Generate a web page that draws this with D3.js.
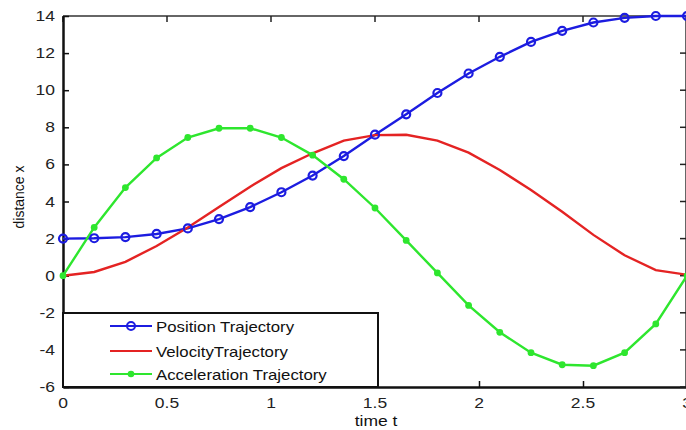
<!DOCTYPE html>
<html><head><meta charset="utf-8">
<script src="https://cdn.jsdelivr.net/npm/d3@7"></script>
<style>body{margin:0;background:#fff;overflow:hidden}svg{display:block}text{font-family:"Liberation Sans",Arial,sans-serif}</style>
</head><body><svg id="c" width="686" height="430"></svg>
<script>
const times = [0,0.15,0.3,0.45,0.6,0.75,0.9,1.05,1.2,1.35,1.5,1.65,1.8,1.95,2.1,2.25,2.4,2.55,2.7,2.85,3.0];
const position = [2.0,2.02,2.08,2.25,2.55,3.05,3.7,4.5,5.4,6.45,7.6,8.7,9.85,10.9,11.8,12.6,13.2,13.65,13.9,14.0,14.0];
const velocity = [0,0.2,0.75,1.6,2.6,3.7,4.8,5.8,6.6,7.28,7.58,7.6,7.28,6.63,5.7,4.62,3.45,2.2,1.1,0.3,0.05];
const acceleration = [0,2.6,4.75,6.35,7.45,7.95,7.95,7.45,6.5,5.2,3.65,1.9,0.15,-1.6,-3.05,-4.15,-4.8,-4.85,-4.15,-2.6,0];
const xTicks = [0,0.5,1,1.5,2,2.5,3];
const yTicks = [-6,-4,-2,0,2,4,6,8,10,12,14];
const seriesNames = ["Position Trajectory","VelocityTrajectory","Acceleration Trajectory"];
const seriesColors = ["#1c1ce0","#e42323","#2ee62e"];

const svg = d3.select("#c");
const L=63,T=16,R=687,B=387;
const SX=1.25;
const x = d3.scaleLinear().domain([0,3]).range([L,R]);
const y = d3.scaleLinear().domain([-6,14]).range([B,T]);

// frame
svg.append("line").attr("x1",L).attr("x2",R).attr("y1",T).attr("y2",T).attr("stroke","#666").attr("stroke-width",2);
svg.append("line").attr("x1",R-1).attr("x2",R-1).attr("y1",T).attr("y2",B).attr("stroke","#666").attr("stroke-width",2);

// bottom axis
const gx = svg.append("g").attr("transform",`translate(0,${B})`)
  .call(d3.axisBottom(x).tickValues(xTicks).tickSizeInner(-6).tickSizeOuter(0).tickFormat(""));
gx.select(".domain").attr("stroke","#111").attr("stroke-width",2.5);
gx.selectAll(".tick line").attr("stroke","#111").attr("stroke-width",1.5);
svg.append("g").selectAll("text").data(xTicks).join("text")
  .attr("transform",d=>`translate(${x(d)},408) scale(${SX},1)`).attr("text-anchor","middle")
  .attr("font-size","14px").attr("fill","#222").text(d=>d3.format("")(d));
// top ticks
svg.append("g").selectAll("line").data(xTicks).join("line")
  .attr("x1",d=>x(d)).attr("x2",d=>x(d)).attr("y1",T).attr("y2",T+6).attr("stroke","#222").attr("stroke-width",1.5);
// left axis
const gy = svg.append("g").attr("transform",`translate(${L},0)`)
  .call(d3.axisLeft(y).tickValues(yTicks).tickSizeInner(-6).tickSizeOuter(0).tickFormat(""));
gy.select(".domain").attr("stroke","#111").attr("stroke-width",2.5);
gy.selectAll(".tick line").attr("stroke","#111").attr("stroke-width",1.5);
svg.append("g").selectAll("text").data(yTicks).join("text")
  .attr("transform",d=>`translate(55,${y(d)+5}) scale(${SX},1)`).attr("text-anchor","end")
  .attr("font-size","14px").attr("fill","#222").text(d=>d);
// right ticks
svg.append("g").selectAll("line").data(yTicks).join("line")
  .attr("x1",R-1).attr("x2",R-7).attr("y1",d=>y(d)).attr("y2",d=>y(d)).attr("stroke","#222").attr("stroke-width",1.5);

svg.append("text").attr("transform",`translate(376,426) scale(${SX},1)`).attr("text-anchor","middle").attr("font-size","14px").attr("fill","#111").text("time t");
svg.append("text").attr("transform",`translate(24,197) rotate(-90)`).attr("text-anchor","middle").attr("font-size","14px").attr("fill","#111").text("distance x");

const line = d3.line().x(d=>x(d[0])).y(d=>y(d[1]));
const data = [position,velocity,acceleration].map(s=>times.map((t,i)=>[t,s[i]]));
svg.append("clipPath").attr("id","cp").append("rect").attr("x",L-6).attr("y",T-6).attr("width",R-L+12).attr("height",B-T+12);
const plot = svg.append("g").attr("clip-path","url(#cp)");
data.forEach((d,k)=>{
  plot.append("path").datum(d).attr("d",line).attr("fill","none").attr("stroke",seriesColors[k]).attr("stroke-width",2.4);
});
plot.selectAll(".pm").data(data[0]).join("circle").attr("cx",d=>x(d[0])).attr("cy",d=>y(d[1])).attr("r",4)
  .attr("fill","none").attr("stroke",seriesColors[0]).attr("stroke-width",2.2);
plot.selectAll(".am").data(data[2]).join("circle").attr("cx",d=>x(d[0])).attr("cy",d=>y(d[1])).attr("r",3.4)
  .attr("fill",seriesColors[2]);

// legend
const lg = svg.append("g");
lg.append("rect").attr("x",L).attr("y",313).attr("width",315).attr("height",B-313).attr("fill","#fff").attr("stroke","#111").attr("stroke-width",2);
const rows=[326,351,374];
seriesNames.forEach((n,k)=>{
  lg.append("line").attr("x1",110).attr("x2",152).attr("y1",rows[k]).attr("y2",rows[k]).attr("stroke",seriesColors[k]).attr("stroke-width",2.2);
  if(k===0) lg.append("circle").attr("cx",131).attr("cy",rows[k]).attr("r",4).attr("fill","none").attr("stroke",seriesColors[k]).attr("stroke-width",2);
  if(k===2) lg.append("circle").attr("cx",131).attr("cy",rows[k]).attr("r",3.3).attr("fill",seriesColors[k]);
  lg.append("text").attr("transform",`translate(156,${rows[k]+6}) scale(1.2,1)`).attr("font-size","14px").attr("fill","#111").text(n);
});
</script></body></html>
